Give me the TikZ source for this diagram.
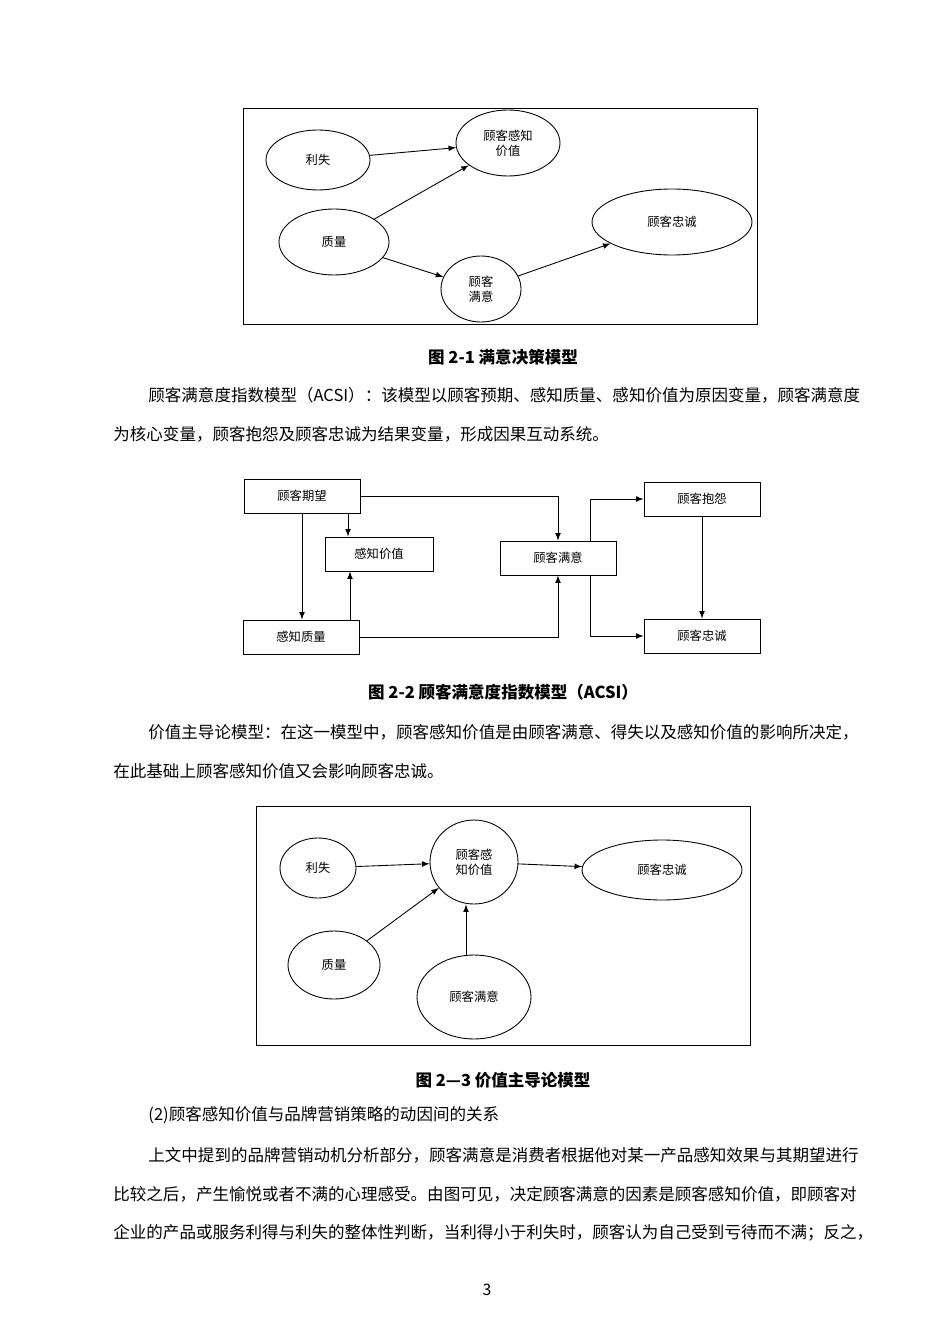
\documentclass[tikz,border=0pt]{standalone}
\usepackage{fontspec}
\setmainfont{Noto Sans CJK SC}
\usepackage{tikz}
\usetikzlibrary{shapes.geometric}

\begin{document}
\begin{tikzpicture}[x = 0.02cm, y = -0.02cm, line width = 0.5pt,
                    oval/.style = {ellipse, draw, font = \fontsize{7}{8.5}\selectfont, align = center, inner sep = 0pt},
                    box/.style = {rectangle, draw, font = \fontsize{7}{8.5}\selectfont, minimum height = 0.68cm, minimum width = 2.32cm},
                    arr/.style = {-latex},
                    body/.style = {anchor = west, inner sep = 0pt, font = \fontsize{9.4}{11}\selectfont},
                    figcap/.style = {inner sep = 0pt, font = \fontsize{9.4}{11}\selectfont\bfseries}]
      \useasboundingbox (0, 0) rectangle (950, 1344);

      % figure 2-1
      \draw (243, 108) rectangle (757, 324);
      \node [oval, minimum width = 2.08cm, minimum height = 1.2cm] (a1) at (318, 160){利失};
      \node [oval, minimum width = 2.08cm, minimum height = 1.32cm] (a2) at (508, 143){顾客感知\\价值};
      \node [oval, minimum width = 2.2cm, minimum height = 1.32cm] (a3) at (334, 242){质量};
      \node [oval, minimum width = 3.2cm, minimum height = 1.32cm] (a4) at (672, 222){顾客忠诚};
      \node [oval, minimum width = 1.6cm, minimum height = 1.32cm] (a5) at (481, 289){顾客\\满意};
      \draw [arr] (a1) -- (a2);
      \draw [arr] (a3) -- (a2);
      \draw [arr] (a3) -- (a5);
      \draw [arr] (a5) -- (a4);
      \node [figcap] (c1) at (503, 357){图 2-1 满意决策模型};

      \node [body] (t1) at (148, 395){顾客满意度指数模型（ACSI）：该模型以顾客预期、感知质量、感知价值为原因变量，顾客满意度};
      \node [body] (t2) at (113, 434){为核心变量，顾客抱怨及顾客忠诚为结果变量，形成因果互动系统。};

      % figure 2-2
      \node [box] (b1) at (302, 496){顾客期望};
      \node [box, minimum width = 2.16cm] (b2) at (379, 554){感知价值};
      \node [box] (b3) at (301, 637){感知质量};
      \node [box] (b4) at (558, 558){顾客满意};
      \node [box] (b5) at (702, 499){顾客抱怨};
      \node [box] (b6) at (702, 636){顾客忠诚};
      \draw [arr] (b1.east) -| (b4.north);
      \draw [arr] ([xshift = 0.92cm]b1.south) -- ([xshift = 0.92cm]b1.south |- b2.north);
      \draw [arr] (b1.south) -- (b1.south |- b3.north);
      \draw [arr] ([xshift = 0.98cm]b3.north) -- ([xshift = 0.98cm]b3.north |- b2.south);
      \draw [arr] (b3.east) -| (b4.south);
      \draw [arr] ([xshift = 0.64cm]b4.north) |- (b5.west);
      \draw [arr] ([xshift = 0.64cm]b4.south) |- (b6.west);
      \draw [arr] (b5) -- (b6);
      \node [figcap] (c2) at (503, 692){图 2-2 顾客满意度指数模型（ACSI）};

      \node [body] (t3) at (148, 732){价值主导论模型：在这一模型中，顾客感知价值是由顾客满意、得失以及感知价值的影响所决定，};
      \node [body] (t4) at (113, 771){在此基础上顾客感知价值又会影响顾客忠诚。};

      % figure 2-3
      \draw (256, 806) rectangle (750, 1045);
      \node [oval, minimum width = 1.52cm, minimum height = 1.2cm] (d1) at (318, 868){利失};
      \node [oval, minimum width = 1.76cm, minimum height = 1.68cm] (d2) at (474, 862){顾客感\\知价值};
      \node [oval, minimum width = 3.2cm, minimum height = 1.2cm] (d3) at (662, 870){顾客忠诚};
      \node [oval, minimum width = 1.84cm, minimum height = 1.36cm] (d4) at (334, 965){质量};
      \node [oval, minimum width = 2.28cm, minimum height = 1.68cm] (d5) at (474, 997){顾客满意};
      \draw [arr] (d1) -- (d2);
      \draw [arr] (d2) -- (d3);
      \draw [arr] (d4) -- (d2);
      \draw [arr] ([xshift = -0.16cm]d5.north) -- ([xshift = -0.16cm]d2.south);
      \node [figcap] (c3) at (503, 1080){图 2—3 价值主导论模型};

      \node [body] (t5) at (148, 1115){(2)顾客感知价值与品牌营销策略的动因间的关系};
      \node [body] (t6) at (148, 1155){上文中提到的品牌营销动机分析部分，顾客满意是消费者根据他对某一产品感知效果与其期望进行};
      \node [body] (t7) at (113, 1194){比较之后，产生愉悦或者不满的心理感受。由图可见，决定顾客满意的因素是顾客感知价值，即顾客对};
      \node [body] (t8) at (113, 1233){企业的产品或服务利得与利失的整体性判断，当利得小于利失时，顾客认为自己受到亏待而不满；反之，};
      \node [font = \fontsize{9}{10}\selectfont] (pg) at (487, 1290){3};
\end{tikzpicture}
\end{document}
